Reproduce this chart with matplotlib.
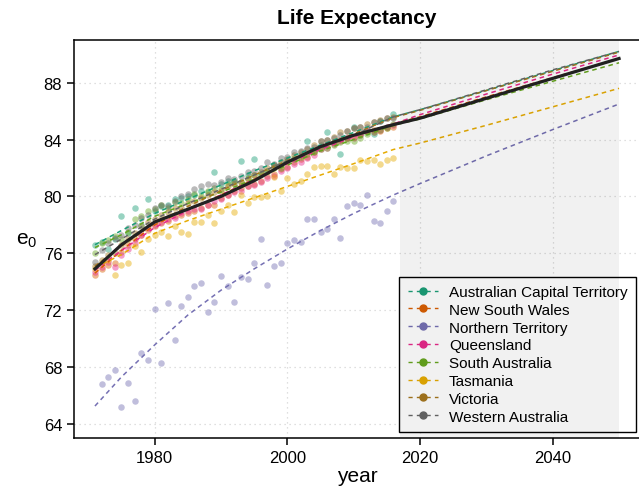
import numpy as np
import matplotlib.pyplot as plt

plt.rcParams['font.family'] = ['Liberation Sans', 'DejaVu Sans']

# observed life expectancy at birth, 1971-2016
years = list(range(1971, 2017))

act = [76.6, 76.8, 76.3, 77.0, 78.6, 77.4, 79.2, 78.0, 79.8, 79.0,
       79.3, 79.4, 79.8, 79.9, 80.0, 80.1, 80.4, 80.3, 81.7, 80.9,
       81.1, 81.0, 82.5, 81.5, 82.6, 81.6, 81.8, 82.2, 82.3, 82.5,
       82.7, 82.9, 83.9, 83.2, 83.6, 84.5, 83.8, 83.0, 84.1, 84.9,
       84.3, 84.5, 84.4, 85.3, 84.9, 85.8]
nsw = [74.5, 74.9, 75.2, 75.3, 76.1, 76.6, 77.0, 77.3, 77.6, 77.9,
       78.1, 78.3, 78.6, 78.7, 78.8, 79.0, 79.2, 79.4, 79.4, 79.9,
       80.1, 80.4, 80.6, 80.7, 80.9, 81.1, 81.4, 81.6, 81.9, 82.1,
       82.4, 82.6, 82.8, 83.1, 83.4, 83.6, 83.8, 84.0, 84.1, 84.2,
       84.4, 84.6, 84.7, 84.6, 84.8, 84.9]
# no NT value for 1971
nt = [np.nan, 66.8, 67.3, 67.8, 65.2, 66.9, 65.6, 69.0, 68.5, 72.1,
      68.3, 72.5, 69.9, 72.3, 72.9, 73.7, 73.9, 71.9, 72.6, 74.4,
      73.7, 72.6, 74.3, 74.2, 75.3, 77.0, 73.8, 75.1, 75.3, 76.7,
      76.9, 76.8, 78.4, 78.4, 77.5, 77.7, 78.4, 77.1, 79.3, 79.5,
      79.4, 80.1, 78.3, 78.1, 79.0, 79.7]
qld = [74.7, 75.0, 75.4, 75.0, 75.9, 76.3, 76.7, 77.3, 77.8, 78.0,
       78.2, 78.4, 78.5, 78.8, 79.0, 79.1, 79.1, 79.4, 79.7, 79.8,
       80.1, 80.3, 80.4, 80.7, 80.8, 81.0, 81.3, 81.4, 81.8, 82.0,
       82.3, 82.4, 82.7, 82.9, 83.3, 83.4, 83.7, 83.9, 84.1, 84.1,
       84.3, 84.6, 84.5, 84.7, 84.9, 85.0]
sa = [76.0, 76.7, 76.9, 77.2, 77.0, 77.5, 78.4, 78.6, 79.0, 79.1,
      79.4, 79.2, 79.6, 79.5, 79.8, 80.2, 80.0, 80.4, 80.6, 80.5,
      80.9, 81.1, 81.0, 81.3, 81.5, 81.6, 81.8, 82.1, 82.0, 82.5,
      82.6, 82.8, 83.0, 83.1, 83.3, 83.4, 83.6, 83.8, 83.9, 83.9,
      84.1, 84.4, 84.5, 84.7, 84.8, 85.1]
tas = [74.9, 75.3, 75.5, 74.5, 75.2, 75.3, 76.5, 76.1, 77.0, 77.3,
       77.5, 77.2, 77.9, 77.5, 77.35, 78.2, 78.2, 78.7, 78.1, 79.0,
       79.4, 78.9, 80.1, 79.5, 79.95, 79.95, 80.05, 81.35, 80.4, 81.27,
       80.9, 81.1, 81.58, 82.1, 82.17, 82.17, 81.54, 82.1, 82.03, 82.03,
       82.59, 82.52, 82.59, 82.31, 82.59, 82.71]
vic = [75.1, 75.5, 75.9, 76.0, 76.6, 77.0, 77.4, 77.9, 78.2, 78.4,
       78.7, 78.9, 79.2, 79.2, 79.5, 79.7, 79.9, 80.1, 80.3, 80.4,
       80.7, 80.9, 81.0, 81.2, 81.5, 81.7, 82.0, 82.2, 82.4, 82.6,
       82.9, 83.1, 83.3, 83.6, 83.9, 84.0, 84.2, 84.5, 84.6, 84.8,
       84.9, 85.1, 85.2, 85.4, 85.5, 85.6]
wa = [75.4, 76.2, 76.7, 77.1, 77.3, 77.8, 78.0, 78.5, 78.7, 79.2,
      79.4, 79.3, 79.7, 80.0, 80.2, 80.5, 80.7, 80.9, 80.8, 81.0,
      81.3, 81.2, 81.4, 81.7, 81.8, 82.0, 82.4, 82.3, 82.7, 82.8,
      83.1, 83.2, 83.4, 83.5, 83.9, 84.0, 84.1, 84.3, 84.6, 84.8,
      84.9, 84.9, 85.2, 85.3, 85.5, 85.5]

# fitted / forecast curves
fit_years = [1971, 1975, 1980, 1985, 1990, 1995, 2000, 2005, 2010, 2016, 2020, 2030, 2040, 2050]
act_fit = [76.6, 77.6, 78.8, 79.8, 80.8, 81.8, 82.7, 83.6, 84.5, 85.6, 86.1, 87.45, 88.85, 90.2]
nsw_fit = [74.6, 76.2, 78.0, 79.1, 80.1, 81.2, 82.4, 83.5, 84.3, 85.1, 85.6, 87.0, 88.35, 89.7]
nt_fit = [65.25, 67.3, 69.55, 71.65, 73.4, 74.9, 76.3, 77.6, 78.8, 80.1, 80.9, 82.85, 84.7, 86.5]
qld_fit = [74.8, 76.2, 77.8, 79.0, 80.1, 81.2, 82.3, 83.3, 84.2, 85.1, 85.75, 87.2, 88.6, 89.95]
sa_fit = [76.4, 77.3, 78.6, 79.5, 80.3, 81.2, 82.2, 83.2, 84.0, 85.0, 85.45, 86.8, 88.1, 89.4]
tas_fit = [75.0, 75.9, 77.4, 78.3, 79.1, 79.9, 80.7, 81.5, 82.3, 83.3, 83.75, 85.0, 86.3, 87.6]
vic_fit = [75.1, 76.5, 78.1, 79.3, 80.4, 81.5, 82.5, 83.5, 84.4, 85.55, 86.05, 87.45, 88.8, 90.15]
wa_fit = [75.9, 77.0, 78.4, 79.5, 80.5, 81.5, 82.5, 83.4, 84.3, 85.6, 86.1, 87.5, 88.9, 90.2]
aus_fit = [74.9, 76.6, 78.2, 79.1, 80.0, 81.1, 82.4, 83.5, 84.3, 85.05, 85.5, 86.9, 88.3, 89.7]

names = ['Australian Capital Territory', 'New South Wales', 'Northern Territory',
         'Queensland', 'South Australia', 'Tasmania', 'Victoria', 'Western Australia']
colors = ['#1b9e77', '#d95f02', '#7570b3', '#e7298a', '#66a61e', '#e6ab02', '#a6761d', '#666666']
obs = [act, nsw, nt, qld, sa, tas, vic, wa]
fits = [act_fit, nsw_fit, nt_fit, qld_fit, sa_fit, tas_fit, vic_fit, wa_fit]

fig = plt.figure(figsize=(6.39, 4.89), dpi=100)
ax = fig.add_axes([0.1158, 0.1022, 0.8858, 0.8139])

for name, col, y, f in zip(names, colors, obs, fits):
    ax.scatter(years, y, s=22, color=col, alpha=0.45, linewidths=0, zorder=2)
    ax.plot(fit_years, f, color=col, lw=1.1, ls=(0, (3, 2.5)), zorder=3)
    # legend handle: dashed line with a dot
    ax.plot([], [], color=col, lw=1.0, ls=(0.5, (3.5, 3)), marker='o', ms=5, label=name)

ax.plot(fit_years, aus_fit, color='#222222', lw=2.3, zorder=4)

# forecast period
ax.axvspan(2017, 2050, color='black', alpha=0.055, lw=0, zorder=6)

ax.set_xlim(1967.84, 2053.16)
ax.set_ylim(63, 91)
ax.set_xticks([1980, 2000, 2020, 2040])
ax.set_yticks([64, 68, 72, 76, 80, 84, 88])
ax.grid(True, ls=(0, (1, 3)), color='#d5d5d5', lw=0.9)
ax.set_axisbelow(True)
ax.tick_params(labelsize=12, length=5, width=1.1, direction='out')
for side in ['left', 'bottom', 'top']:
    ax.spines[side].set_linewidth(1.1)
ax.spines['right'].set_visible(False)

ax.set_title('Life Expectancy', fontsize=15, fontweight='bold', pad=12)
ax.set_xlabel('year', fontsize=15, labelpad=1)
ax.set_ylabel(r'$\mathregular{e_0}$', fontsize=15, rotation=0, labelpad=12, va='center')

leg = ax.legend(loc='lower right', bbox_to_anchor=(0.993, 0.015), fontsize=11,
                frameon=True, fancybox=False, edgecolor='black', facecolor='white',
                framealpha=1, handlelength=2.0, handletextpad=0.7,
                labelspacing=0.25, borderpad=0.55, borderaxespad=0)
leg.get_frame().set_linewidth(1.0)
leg.set_zorder(5)

fig.savefig('out.png', dpi=100)
